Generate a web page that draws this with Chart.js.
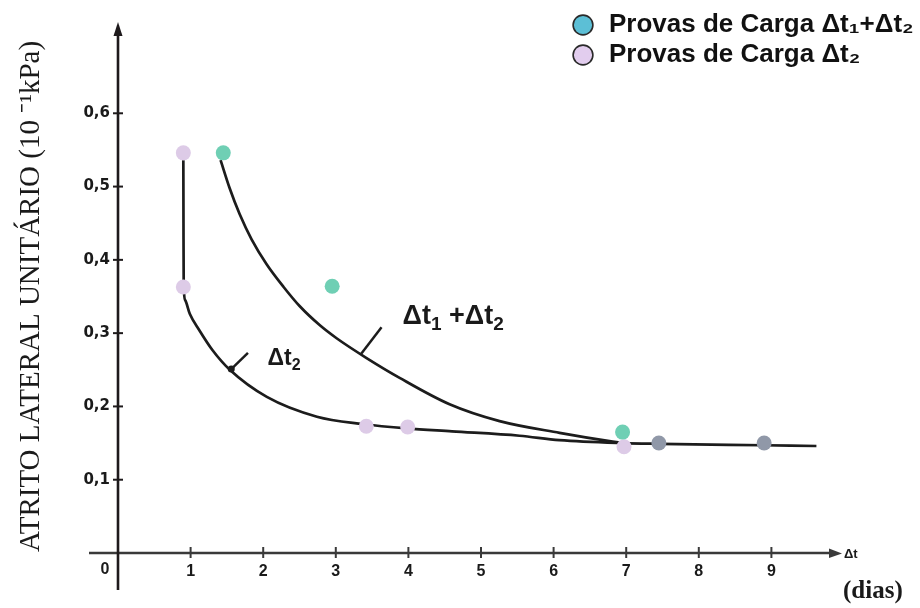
<!DOCTYPE html>
<html><head><meta charset="utf-8">
<script src="https://cdn.jsdelivr.net/npm/chart.js@4/dist/chart.umd.min.js"></script>
<style>html,body{margin:0;padding:0;background:#fff;}#wrap{width:920px;height:608px;position:relative;}</style>
</head><body><div id="wrap"><canvas id="c" width="920" height="608"></canvas></div>
<script>
// ---- data ----
const seriesNames = ['Provas de Carga Δt₁+Δt₂', 'Provas de Carga Δt₂'];
const t1t2X = [1.45, 2.95, 6.95];
const t1t2Y = [0.546, 0.364, 0.165];
const t2X = [0.9, 0.9, 3.42, 3.99, 6.97];
const t2Y = [0.546, 0.363, 0.173, 0.172, 0.145];
const sharedX = [7.45, 8.9];
const sharedY = [0.150, 0.150];
const curveT2X = [0.90, 0.902, 0.905, 0.925, 0.99, 1.12, 1.30, 1.54, 2.05, 2.74, 3.37, 3.98, 4.6, 5.53, 6.08, 6.95, 7.46, 8.9, 9.62];
const curveT2Y = [0.536, 0.45, 0.365, 0.345, 0.326, 0.304, 0.277, 0.250, 0.213, 0.186, 0.176, 0.170, 0.166, 0.160, 0.154, 0.150, 0.149, 0.147, 0.146];
const curveT1T2X = [1.413, 1.537, 1.675, 1.840, 2.047, 2.281, 2.501, 2.777, 3.011, 3.424, 3.879, 4.567, 5.256, 6.082, 6.813, 7.0];
const curveT1T2Y = [0.536, 0.498, 0.4625, 0.428, 0.394, 0.363, 0.337, 0.311, 0.293, 0.266, 0.239, 0.203, 0.180, 0.164, 0.152, 0.1495];
const pointerT2X = [1.79, 1.56];
const pointerT2Y = [0.273, 0.251];
const pointerT1T2X = [3.63, 3.35];
const pointerT1T2Y = [0.308, 0.272];
const xTickValues = [1, 2, 3, 4, 5, 6, 7, 8, 9];
const yTickValues = [0.1, 0.2, 0.3, 0.4, 0.5, 0.6];
const yTickLabels = ['0,1', '0,2', '0,3', '0,4', '0,5', '0,6'];
const curveLabels = ['Δt₂', 'Δt₁ +Δt₂'];
const yTitle = 'ATRITO LATERAL UNITÁRIO (10 ⁻¹kPa)';
const xUnit = '(dias)';
const xAxisName = 'Δt';

// ---- styles ----
const curveLabelPos = [{x: 2.06, y: 0.256}, {x: 3.92, y: 0.312}];
const curveLabelSize = [23, 27];
const plotFill = ['#6fcfb4', '#ddcbe7', '#9098a8'];
const legendFill = ['#5cbfd6', '#e2cdee'];
const tickFamily = '"Liberation Sans Narrow", "Liberation Sans", Arial, sans-serif';

const pts = (xs, ys) => xs.map((x, i) => ({x, y: ys[i]}));

const SUBS = {'₀':'0','₁':'1','₂':'2','₃':'3'};
function drawRich(ctx, text, x, y, size) {
  let cx = x;
  for (const ch of text) {
    if (SUBS[ch]) {
      ctx.font = 'bold ' + Math.round(size * 0.7) + 'px "Liberation Sans", Arial, sans-serif';
      ctx.fillText(SUBS[ch], cx, y + size * 0.2);
      cx += ctx.measureText(SUBS[ch]).width;
    } else {
      ctx.font = 'bold ' + size + 'px "Liberation Sans", Arial, sans-serif';
      ctx.fillText(ch, cx, y);
      cx += ctx.measureText(ch).width;
    }
  }
}

const axesPlugin = {
  id: 'axesPlugin',
  beforeDatasetsDraw(chart) {
    const {ctx, scales: {x, y}} = chart;
    const x0 = x.getPixelForValue(0), y0 = y.getPixelForValue(0);
    const xEnd = x.getPixelForValue(10) - 2;
    const yTop = y.getPixelForValue(0.7) - 18;
    ctx.save();
    ctx.lineCap = 'butt';
    ctx.strokeStyle = '#3a3a3a'; ctx.fillStyle = '#3a3a3a'; ctx.lineWidth = 2.4;
    ctx.beginPath(); ctx.moveTo(x0 - 29, y0); ctx.lineTo(xEnd - 10, y0); ctx.stroke();
    ctx.beginPath(); ctx.moveTo(xEnd, y0 + 0.5); ctx.lineTo(xEnd - 13, y0 - 4.5); ctx.lineTo(xEnd - 13, y0 + 5); ctx.closePath(); ctx.fill();
    xTickValues.forEach(v => {
      const px = x.getPixelForValue(v);
      ctx.lineWidth = 2;
      ctx.beginPath(); ctx.moveTo(px, y0 - 6); ctx.lineTo(px, y0 + 5); ctx.stroke();
    });
    ctx.strokeStyle = '#1e1a1c'; ctx.fillStyle = '#1e1a1c'; ctx.lineWidth = 2.6;
    ctx.beginPath(); ctx.moveTo(x0, y0 + 37); ctx.lineTo(x0, yTop + 10); ctx.stroke();
    ctx.beginPath(); ctx.moveTo(x0, yTop); ctx.lineTo(x0 - 4.5, yTop + 14); ctx.lineTo(x0 + 4.5, yTop + 14); ctx.closePath(); ctx.fill();
    yTickValues.forEach(v => {
      const py = y.getPixelForValue(v);
      ctx.lineWidth = 2;
      ctx.beginPath(); ctx.moveTo(x0 - 5, py); ctx.lineTo(x0 + 5, py); ctx.stroke();
    });
    ctx.restore();
  },
  afterDraw(chart) {
    const {ctx, scales: {x, y}} = chart;
    const x0 = x.getPixelForValue(0), y0 = y.getPixelForValue(0);
    const xEnd = x.getPixelForValue(10) - 2;
    ctx.save();
    ctx.fillStyle = '#1a1a1a';
    ctx.textBaseline = 'middle'; ctx.textAlign = 'center';
    ctx.font = 'bold 16px ' + tickFamily;
    ctx.fillText('0', x0 - 13, y0 + 17);
    ctx.textAlign = 'left';
    ctx.font = 'bold 13px "Liberation Sans", Arial, sans-serif';
    ctx.fillText(xAxisName, xEnd + 2, y0 + 1);
    ctx.font = 'bold 25px "Liberation Serif", "Times New Roman", serif';
    ctx.fillText(xUnit, xEnd + 1, y0 + 39);
    ctx.textBaseline = 'alphabetic';
    curveLabels.forEach((t, i) => {
      drawRich(ctx, t, x.getPixelForValue(curveLabelPos[i].x), y.getPixelForValue(curveLabelPos[i].y), curveLabelSize[i]);
    });
    ctx.restore();
  }
};

const legendPlace = {
  id: 'legendPlace',
  afterLayout(chart) {
    const lg = chart.legend;
    if (!lg) return;
    const w = lg.width, h = lg.height;
    lg.left = 566; lg.top = 8; lg.right = 566 + w; lg.bottom = 8 + h;
  }
};

new Chart(document.getElementById('c'), {
  type: 'scatter',
  data: {
    datasets: [
      {label: seriesNames[0], data: pts(t1t2X, t1t2Y), pointRadius: 7.5, pointBorderWidth: 0, pointBackgroundColor: plotFill[0], order: 0},
      {label: seriesNames[1], data: pts(t2X, t2Y), pointRadius: 7.5, pointBorderWidth: 0, pointBackgroundColor: plotFill[1], order: 0},
      {label: 'comum', data: pts(sharedX, sharedY), pointRadius: 7.5, pointBorderWidth: 0, pointBackgroundColor: plotFill[2], order: 0},
      {label: 'curva Δt₂', data: pts(curveT2X, curveT2Y), showLine: true, pointRadius: 0, borderColor: '#1c1c1c', borderWidth: 2.7, cubicInterpolationMode: 'monotone', order: 1},
      {label: 'curva Δt₁+Δt₂', data: pts(curveT1T2X, curveT1T2Y), showLine: true, pointRadius: 0, borderColor: '#1c1c1c', borderWidth: 2.7, cubicInterpolationMode: 'monotone', order: 1},
      {label: 'seta Δt₂', data: pts(pointerT2X, pointerT2Y), showLine: true, pointRadius: [0, 3.5], pointBackgroundColor: '#1c1c1c', pointBorderWidth: 0, borderColor: '#1c1c1c', borderWidth: 2.5, order: 1},
      {label: 'seta Δt₁+Δt₂', data: pts(pointerT1T2X, pointerT1T2Y), showLine: true, pointRadius: 0, borderColor: '#1c1c1c', borderWidth: 2.5, order: 1}
    ]
  },
  options: {
    responsive: false,
    animation: false,
    layout: {padding: {left: 0, right: 76, top: 40, bottom: 0}},
    plugins: {
      tooltip: {enabled: false},
      legend: {
        position: 'chartArea',
        align: 'start',
        labels: {
          usePointStyle: true,
          boxHeight: 14,
          padding: 4,
          color: '#111',
          font: {family: '"Liberation Sans", Arial, sans-serif', size: 26, weight: 'bold'},
          generateLabels: () => seriesNames.map((name, i) => ({
            text: name, fillStyle: legendFill[i], strokeStyle: '#2a2a2a', lineWidth: 1.6,
            pointStyle: 'circle', datasetIndex: i, hidden: false, fontColor: '#111'
          }))
        }
      }
    },
    scales: {
      x: {
        type: 'linear', min: 0, max: 10,
        grid: {display: false, drawTicks: false}, border: {display: false},
        afterBuildTicks: s => { s.ticks = xTickValues.map(v => ({value: v})); },
        afterFit: s => { s.height = 55; },
        ticks: {padding: 9, color: '#1a1a1a', font: {family: tickFamily, size: 16, weight: 'bold'}, maxRotation: 0, autoSkip: false, callback: v => String(v)}
      },
      y: {
        type: 'linear', min: 0, max: 0.7,
        grid: {display: false, drawTicks: false}, border: {display: false},
        afterBuildTicks: s => { s.ticks = yTickValues.map(v => ({value: v})); },
        afterFit: s => { s.width = 118; },
        ticks: {padding: 8, color: '#1a1a1a', font: {family: '"DejaVu Sans", sans-serif', size: 15, weight: 'bold'}, autoSkip: false, callback: (v, i) => yTickLabels[i]},
        title: {display: true, text: yTitle, color: '#1a1a1a', font: {family: '"Liberation Serif", "Times New Roman", serif', size: 29}, padding: {top: 14, bottom: 0}}
      }
    }
  },
  plugins: [axesPlugin, legendPlace]
});
</script>
</body></html>
